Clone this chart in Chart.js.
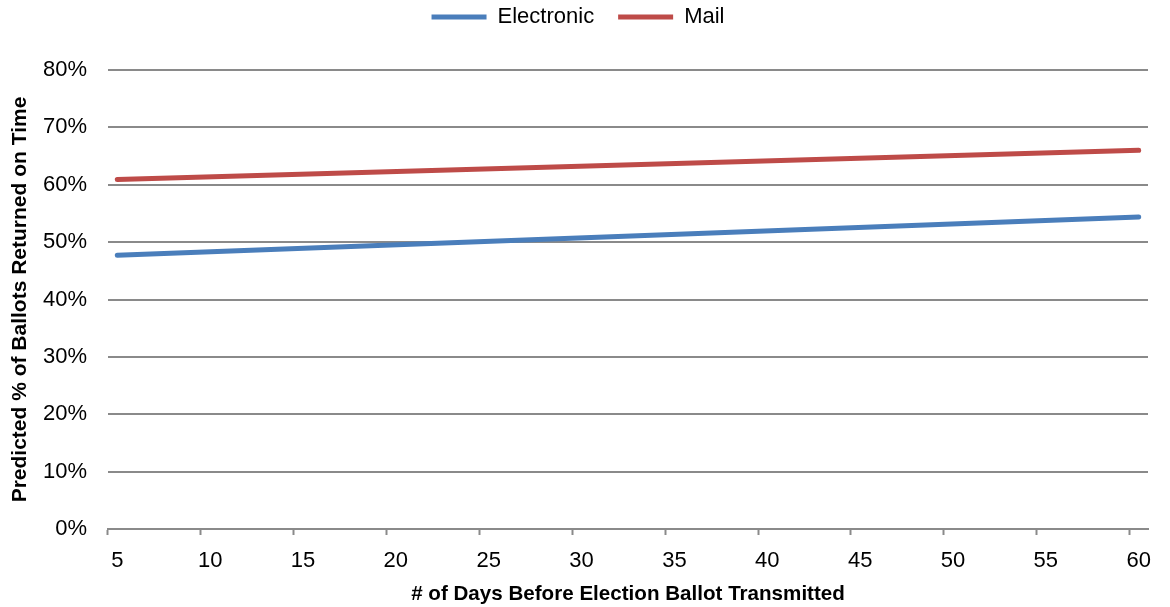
<!DOCTYPE html>
<html lang="en">
<head>
<meta charset="UTF-8">
<title>Ballots returned on time</title>
<script src="https://cdn.jsdelivr.net/npm/chart.js"></script>
<style>
  html, body { margin: 0; padding: 0; background: #fff; }
  #wrap { width: 1170px; height: 607px; }
</style>
</head>
<body>
<div id="wrap"><canvas id="myChart" width="1170" height="607"></canvas></div>
<script>
// categories: days before election (one category per day)
const days = ['5','6','7','8','9','10','11','12','13','14','15','16','17','18','19','20',
  '21','22','23','24','25','26','27','28','29','30','31','32','33','34','35','36','37','38',
  '39','40','41','42','43','44','45','46','47','48','49','50','51','52','53','54','55','56',
  '57','58','59','60'];

// predicted % (straight fitted lines, read at both ends)
const electronicDays = ['5', '60'];
const electronicPct = [47.7, 54.4];
const mailDays = ['5', '60'];
const mailPct = [60.9, 66.0];

const yTicks = [0, 10, 20, 30, 40, 50, 60, 70, 80];

const gridGray = '#8a8a8a';
const sans = "'Liberation Sans', Arial, sans-serif";
const tickFont = { family: sans, size: 22 };

function points(xs, ys) {
  return xs.map(function (x, i) { return { x: x, y: ys[i] }; });
}

// extra room under the legend
const legendGap = {
  id: 'legendGap',
  beforeInit: function (chart) {
    const fit = chart.legend.fit;
    chart.legend.fit = function () {
      fit.bind(chart.legend)();
      this.height += 32;
    };
  }
};

const config = {
  type: 'line',
  data: {
    labels: days,
    datasets: [
      {
        label: 'Electronic',
        data: points(electronicDays, electronicPct),
        borderColor: '#4a7ebb',
        backgroundColor: '#4a7ebb',
        borderWidth: 5,
        borderCapStyle: 'round',
        pointRadius: 0,
        fill: false
      },
      {
        label: 'Mail',
        data: points(mailDays, mailPct),
        borderColor: '#be4b48',
        backgroundColor: '#be4b48',
        borderWidth: 5,
        borderCapStyle: 'round',
        pointRadius: 0,
        fill: false
      }
    ]
  },
  options: {
    responsive: false,
    animation: false,
    layout: { padding: { top: -18, right: 22, bottom: 0, left: 8 } },
    plugins: {
      tooltip: { enabled: false },
      legend: {
        position: 'top',
        labels: {
          color: '#000',
          font: { family: sans, size: 22 },
          usePointStyle: true,
          pointStyle: 'line',
          pointStyleWidth: 55,
          boxHeight: 22,
          padding: 24
        }
      }
    },
    scales: {
      x: {
        type: 'category',
        offset: true,
        afterFit: function (axis) { axis.height = 78; },
        grid: {
          offset: true,
          drawOnChartArea: false,
          drawTicks: true,
          tickLength: 6,
          tickWidth: 2,
          tickColor: function (ctx) { return ctx.index % 5 === 0 && ctx.index < days.length ? gridGray : 'rgba(0,0,0,0)'; }
        },
        border: { display: true, color: gridGray, width: 2 },
        ticks: {
          autoSkip: false,
          maxRotation: 0,
          color: '#000',
          font: tickFont,
          padding: 13,
          callback: function (v, i) { return i % 5 === 0 ? days[i] : ''; }
        },
        title: {
          display: true,
          text: '# of Days Before Election Ballot Transmitted',
          color: '#000',
          font: { family: sans, size: 20.6, weight: 'bold' },
          padding: { top: 0, bottom: 0 }
        }
      },
      y: {
        min: 0,
        max: 80,
        afterBuildTicks: function (axis) { axis.ticks = yTicks.map(function (v) { return { value: v }; }); },
        afterFit: function (axis) { axis.width = 100; },
        grid: { color: gridGray, lineWidth: 2, drawTicks: false },
        border: { display: false },
        ticks: {
          color: '#000',
          font: tickFont,
          padding: 21,
          callback: function (v) { return v + '%'; }
        },
        title: {
          display: true,
          text: 'Predicted % of Ballots Returned on Time',
          color: '#000',
          font: { family: sans, size: 21, weight: 'bold' },
          padding: { top: 0, bottom: 10 }
        }
      }
    }
  },
  plugins: [legendGap]
};

new Chart(document.getElementById('myChart'), config);
</script>
</body>
</html>
